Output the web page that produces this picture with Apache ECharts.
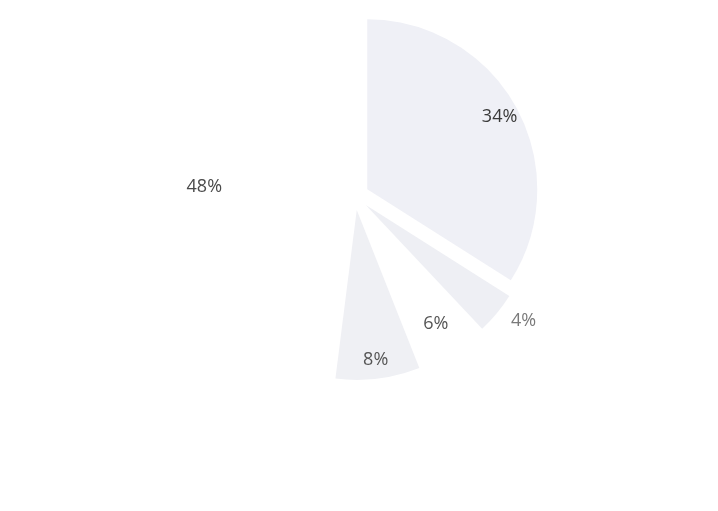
<!DOCTYPE html>
<html>
<head>
<meta charset="utf-8">
<style>
  html, body { margin: 0; padding: 0; background: #ffffff; }
  #chart { width: 718px; height: 511px; }
</style>
<script src="https://cdn.jsdelivr.net/npm/echarts@6/dist/echarts.min.js"></script>
</head>
<body>
<div id="chart"></div>
<script>
// Slice values (percent), in clockwise order starting at 12 o'clock
const sliceNames = ['A', 'B', 'C', 'D', 'E'];
const sliceValues = [34, 4, 6, 8, 48];
const sliceLabels = ['34%', '4%', '6%', '8%', '48%'];
const sliceExploded = [true, true, false, true, false];
const labelOutside = [false, true, false, false, false];

const sliceColors = ['#eff0f6', '#eeeff4', '#ffffff', '#eff0f4', '#ffffff'];
const labelColors = ['#3a3a3a', '#7a7a7a', '#555555', '#555555', '#4a4a4a'];

const chart = echarts.init(document.getElementById('chart'), null, { renderer: 'canvas' });

const labelFont = { fontFamily: 'Open Sans', fontSize: 18, fontWeight: 'normal' };

const pieData = sliceValues.map((v, i) => ({
  name: sliceNames[i],
  value: v,
  selected: sliceExploded[i],
  itemStyle: { color: sliceColors[i] },
  label: Object.assign({ show: labelOutside[i], position: 'outside', formatter: sliceLabels[i], color: labelColors[i] }, labelFont),
  labelLine: { show: false, length: 12, length2: 0 },
  select: { itemStyle: { color: sliceColors[i], borderWidth: 0 }, label: { color: labelColors[i] } }
}));

const labelData = sliceValues.map((v, i) => ({
  name: sliceNames[i],
  value: v,
  selected: sliceExploded[i],
  label: { show: !labelOutside[i], formatter: sliceLabels[i], color: labelColors[i] },
  select: { label: { color: labelColors[i] }, itemStyle: { color: 'rgba(0,0,0,0)', borderWidth: 0 } }
}));

const common = {
  type: 'pie',
  center: [355, 196],
  startAngle: 90,
  clockwise: true,
  selectedMode: 'multiple',
  selectedOffset: 14,
  animation: false,
  silent: true,
  emphasis: { disabled: true }
};

chart.setOption({
  backgroundColor: '#ffffff',
  animation: false,
  series: [
    Object.assign({}, common, {
      radius: [0, 170],
      labelLine: { show: false },
      itemStyle: { borderWidth: 0 },
      avoidLabelOverlap: false,
      data: pieData
    }),
    Object.assign({}, common, {
      radius: [0, 296],
      itemStyle: { color: 'rgba(0,0,0,0)', borderWidth: 0 },
      label: Object.assign({ show: true, position: 'inside' }, labelFont),
      labelLine: { show: false },
      data: labelData
    })
  ]
});
</script>
</body>
</html>
